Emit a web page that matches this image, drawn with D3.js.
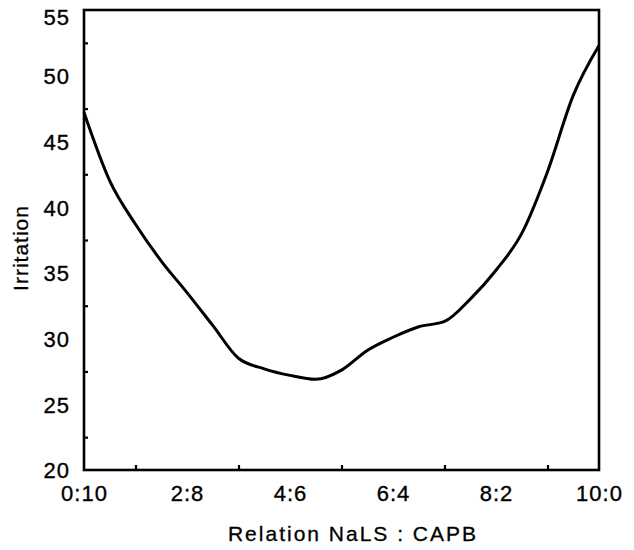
<!DOCTYPE html>
<html>
<head>
<meta charset="utf-8">
<script src="https://cdn.jsdelivr.net/npm/d3@7"></script>
<style>
  body { margin: 0; background: #fff; }
  svg { display: block; }
  text { font-family: "Liberation Sans", Arial, Helvetica, sans-serif; fill: #000; }
</style>
</head>
<body>
<svg id="chart" width="634" height="550"></svg>
<script>
// Ratio positions (0 = 0:10 ... 10 = 10:0)
const ratioPos = [0, 0.5, 1, 1.5, 2, 2.5, 3, 3.5, 4, 4.5, 5, 5.5, 6, 6.5, 7, 7.5, 8, 8.5, 9, 9.5, 10];
const irritation = [47.2, 42.0, 38.7, 35.9, 33.5, 31.0, 28.5, 27.7, 27.2, 26.9, 27.6, 29.1, 30.1, 30.9, 31.3, 33.0, 35.2, 38.0, 42.7, 48.5, 52.3];
const xTickLabels = ["0:10", "2:8", "4:6", "6:4", "8:2", "10:0"];
const xLabelPos = [0, 2, 4, 6, 8, 10];
const xMinorTicks = [1, 3, 5, 7, 9];
const yTickValues = [20, 25, 30, 35, 40, 45, 50, 55];
const yMinorTicks = [22.5, 27.5, 32.5, 37.5, 42.5, 47.5, 52.5];
const xTitle = "Relation NaLS : CAPB";
const yTitle = "Irritation";

(function () {
const svg = d3.select("#chart");
const mLeft = 84, mRight = 599, mTop = 10, mBottom = 470;

const x = d3.scaleLinear().domain([0, 10]).range([mLeft, mRight]);
const y = d3.scaleLinear().domain([20, 55]).range([mBottom, mTop]);

// frame
svg.append("rect")
  .attr("x", mLeft).attr("y", mTop)
  .attr("width", mRight - mLeft).attr("height", mBottom - mTop)
  .attr("fill", "none").attr("stroke", "#000").attr("stroke-width", 2.6);

// minor ticks (inward)
const xMinor = svg.append("g").attr("transform", `translate(0,${mBottom})`)
  .call(d3.axisBottom(x).tickValues(xMinorTicks).tickSize(-5).tickFormat(""));
xMinor.select(".domain").remove();
xMinor.selectAll("line").attr("stroke-width", 2.2);

const yMinor = svg.append("g").attr("transform", `translate(${mLeft},0)`)
  .call(d3.axisLeft(y).tickValues(yMinorTicks).tickSize(-4).tickFormat(""));
yMinor.select(".domain").remove();
yMinor.selectAll("line").attr("stroke-width", 2.2);

// x labels
const xLab = svg.append("g").attr("transform", `translate(0,${mBottom})`)
  .call(d3.axisBottom(x).tickValues(xLabelPos).tickSize(0).tickPadding(0)
    .tickFormat((d, i) => xTickLabels[i]));
xLab.select(".domain").remove();
xLab.selectAll("text")
  .attr("y", 31).attr("dy", null)
  .style("font-size", "22px")
  .style("letter-spacing", "1px")
  .style("stroke", "#000").style("stroke-width", "0.35px")
  .style("font-family", "'Liberation Sans', Arial, sans-serif");

// y labels
const yLab = svg.append("g").attr("transform", `translate(${mLeft},0)`)
  .call(d3.axisLeft(y).tickValues(yTickValues).tickSize(0).tickPadding(14));
yLab.select(".domain").remove();
yLab.selectAll("text")
  .attr("dy", "0.36em")
  .attr("y", d => (d === 55 ? 7 : 0))
  .style("font-size", "22px")
  .style("letter-spacing", "1px")
  .style("stroke", "#000").style("stroke-width", "0.35px")
  .style("font-family", "'Liberation Sans', Arial, sans-serif");

// titles
svg.append("text")
  .attr("x", 353).attr("y", 541)
  .attr("text-anchor", "middle")
  .style("font-size", "21px")
  .style("letter-spacing", "2px")
  .style("stroke", "#000").style("stroke-width", "0.3px")
  .text(xTitle);

svg.append("text")
  .attr("transform", "translate(28,248) rotate(-90)")
  .attr("text-anchor", "middle")
  .style("font-size", "21px")
  .style("letter-spacing", "1px")
  .style("stroke", "#000").style("stroke-width", "0.3px")
  .text(yTitle);

// curve
const line = d3.line()
  .x((d, i) => x(ratioPos[i]))
  .y(d => y(d))
  .curve(d3.curveMonotoneX);

svg.append("path")
  .datum(irritation)
  .attr("d", line)
  .attr("fill", "none")
  .attr("stroke", "#000")
  .attr("stroke-width", 3)
  .attr("stroke-linejoin", "round");
})();
</script>
</body>
</html>
